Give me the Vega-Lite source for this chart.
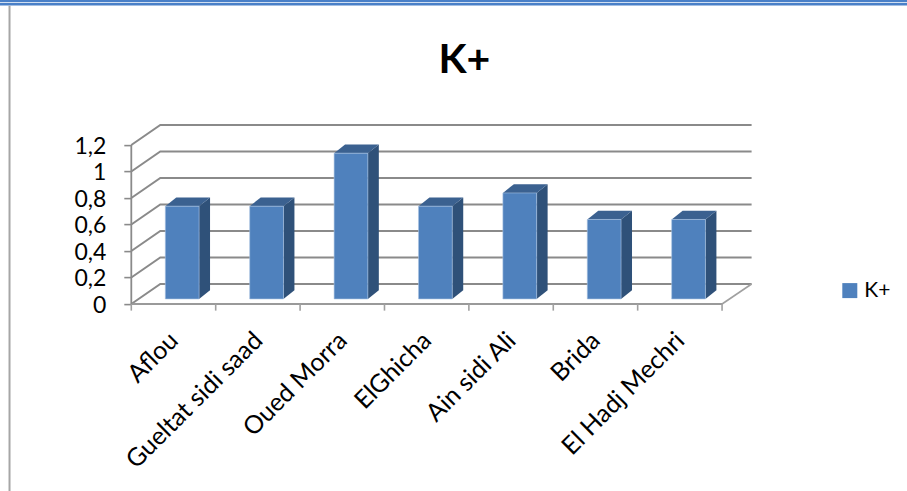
{
  "$schema": "https://vega.github.io/schema/vega-lite/v6.json",
  "autosize": "none",
  "padding": {"left": 131.3, "top": 125.1, "right": 155.4, "bottom": 187},
  "width": 620.3,
  "height": 178.9,
  "background": "#ffffff",
  "title": {"text": "K+", "font": "Lato", "fontWeight": "bold", "fontSize": 41, "color": "#000000", "anchor": "middle", "dx": 23, "offset": -82},
  "datasets": {
    "sites": [
      {"site": "Aflou", "idx": 0, "K": 0.7},
      {"site": "Gueltat sidi saad", "idx": 1, "K": 0.7},
      {"site": "Oued Morra", "idx": 2, "K": 1.1},
      {"site": "ElGhicha", "idx": 3, "K": 0.7},
      {"site": "Ain sidi Ali", "idx": 4, "K": 0.8},
      {"site": "Brida", "idx": 5, "K": 0.6},
      {"site": "El Hadj Mechri", "idx": 6, "K": 0.6}
    ],
    "levels": [
      {"level": 0}, {"level": 0.2}, {"level": 0.4}, {"level": 0.6}, {"level": 0.8}, {"level": 1}, {"level": 1.2}
    ],
    "ticks": [
      {"c": 0}, {"c": 1}, {"c": 2}, {"c": 3}, {"c": 4}, {"c": 5}, {"c": 6}, {"c": 7}
    ]
  },
  "data": {"name": "sites"},
  "encoding": {
    "x": {
      "field": "xa",
      "type": "quantitative",
      "scale": {"domain": [0, 7.35], "nice": false, "zero": false},
      "axis": {
        "title": null,
        "orient": "bottom",
        "values": [0.5, 1.5, 2.5, 3.5, 4.5, 5.5, 6.5],
        "labelExpr": "['Aflou','Gueltat sidi saad','Oued Morra','ElGhicha','Ain sidi Ali','Brida','El Hadj Mechri'][datum.value - 0.5]",
        "domain": false,
        "ticks": false,
        "grid": false,
        "labelAngle": -45,
        "labelAlign": "right",
        "labelBaseline": "middle",
        "labelFont": "Lato",
        "labelFontSize": 25,
        "labelColor": "#000000",
        "labelPadding": 32,
        "labelLimit": 320,
        "labelOverlap": false,
        "labelFlush": false,
        "labelBound": false
      }
    },
    "y": {
      "field": "ya",
      "type": "quantitative",
      "scale": {"domain": [0, 1.35], "nice": false, "zero": false},
      "axis": {
        "title": null,
        "values": [0, 0.2, 0.4, 0.6, 0.8, 1, 1.2],
        "labelExpr": "replace(format(datum.value, '.1~f'), '.', ',')",
        "domain": false,
        "grid": false,
        "tickSize": 7.5,
        "tickColor": "#8a8a8a",
        "tickWidth": 1.6,
        "labelFont": "Lato",
        "labelFontSize": 23,
        "labelColor": "#000000",
        "labelPadding": 18,
        "labelOffset": 1.5,
        "labelOverlap": false
      }
    }
  },
  "layer": [
    {
      "description": "Back wall and floor lines running from the front edge into the depth",
      "data": {"name": "levels"},
      "transform": [
        {"calculate": "[0, 0.3436, 7.35]", "as": "xa"},
        {"flatten": ["xa"]},
        {"calculate": "datum.level + (datum.xa > 0 ? 0.151 : 0)", "as": "ya"}
      ],
      "mark": {"type": "line", "stroke": "#8a8a8a", "strokeWidth": 2, "interpolate": "linear"},
      "encoding": {"detail": {"field": "level"}, "order": {"field": "xa"}}
    },
    {
      "description": "Right-hand edge of the floor",
      "data": {"values": [{"xa": 7, "ya": 0}, {"xa": 7.35, "ya": 0.151}]},
      "mark": {"type": "line", "stroke": "#a0a0a0", "strokeWidth": 1.6}
    },
    {
      "description": "Front floor edge",
      "data": {"values": [{"xa": 0, "x2a": 7, "ya": 0}]},
      "mark": {"type": "rule", "stroke": "#9a9a9a", "strokeWidth": 1.8},
      "encoding": {"x2": {"field": "x2a"}}
    },
    {
      "description": "Value axis line",
      "data": {"values": [{"xa": 0, "ya": 0, "y2a": 1.2}]},
      "mark": {"type": "rule", "stroke": "#8a8a8a", "strokeWidth": 1.8},
      "encoding": {"y2": {"field": "y2a"}}
    },
    {
      "description": "Category tick marks below the floor edge",
      "data": {"name": "ticks"},
      "transform": [
        {"calculate": "datum.c", "as": "xa"},
        {"calculate": "0", "as": "ya"},
        {"calculate": "-0.05", "as": "y2a"}
      ],
      "mark": {"type": "rule", "stroke": "#a0a0a0", "strokeWidth": 1.6},
      "encoding": {"y2": {"field": "y2a"}}
    },
    {
      "description": "Shaded right side of each column",
      "transform": [
        {"calculate": "[0, 1]", "as": "t"},
        {"flatten": ["t"]},
        {"calculate": "datum.idx + 0.803 + datum.t * 0.13", "as": "xa"},
        {"calculate": "0.038 + datum.t * 0.066", "as": "ya"},
        {"calculate": "datum.K + datum.ya", "as": "y2a"}
      ],
      "mark": {"type": "area", "color": "#2f5179", "line": false, "interpolate": "linear"},
      "encoding": {"y2": {"field": "y2a"}, "detail": {"field": "site"}}
    },
    {
      "description": "Top cap of each column",
      "transform": [
        {"calculate": "[0, 1]", "as": "t"},
        {"flatten": ["t"]},
        {"calculate": "datum.idx + 0.403 + datum.t * 0.13", "as": "xa"},
        {"calculate": "datum.xa + 0.4", "as": "x2a"},
        {"calculate": "datum.K + 0.038 + datum.t * 0.066", "as": "ya"}
      ],
      "mark": {"type": "area", "orient": "horizontal", "color": "#3b6190", "line": false, "interpolate": "linear"},
      "encoding": {"x2": {"field": "x2a"}, "detail": {"field": "site"}}
    },
    {
      "description": "Front face of each column, carries the legend",
      "transform": [
        {"calculate": "datum.idx + 0.403", "as": "xa"},
        {"calculate": "datum.xa + 0.4", "as": "x2a"},
        {"calculate": "0.038", "as": "ya"},
        {"calculate": "datum.K + 0.038", "as": "y2a"}
      ],
      "mark": {"type": "rect", "stroke": "#a9c3e2", "strokeWidth": 0.6},
      "encoding": {
        "x2": {"field": "x2a"},
        "y2": {"field": "y2a"},
        "color": {
          "datum": "K+",
          "scale": {"range": ["#4f81bd"]},
          "legend": {
            "title": null,
            "orient": "none",
            "legendX": 708,
            "legendY": 155,
            "symbolType": "square",
            "symbolSize": 225,
            "symbolStrokeWidth": 0,
            "labelFont": "Lato",
            "labelFontSize": 21,
            "labelColor": "#000000",
            "labelOffset": 4
          }
        }
      }
    },
    {
      "description": "Blue double rule along the top of the page",
      "data": {"values": [
        {"xa": -1.556, "x2a": 9.2, "ya": 2.287, "band": "upper"},
        {"xa": -1.556, "x2a": 9.2, "ya": 2.262, "band": "lower"}
      ]},
      "mark": {"type": "rule", "stroke": "#4a80c8", "strokeWidth": 2.5},
      "encoding": {"x2": {"field": "x2a"}}
    },
    {
      "description": "Grey rule down the left margin of the page",
      "data": {"values": [{"xa": -1.443, "ya": 2.25, "y2a": -1.42}]},
      "mark": {"type": "rule", "stroke": "#a6a6a6", "strokeWidth": 2},
      "encoding": {"y2": {"field": "y2a"}}
    }
  ],
  "config": {"view": {"stroke": null}}
}
